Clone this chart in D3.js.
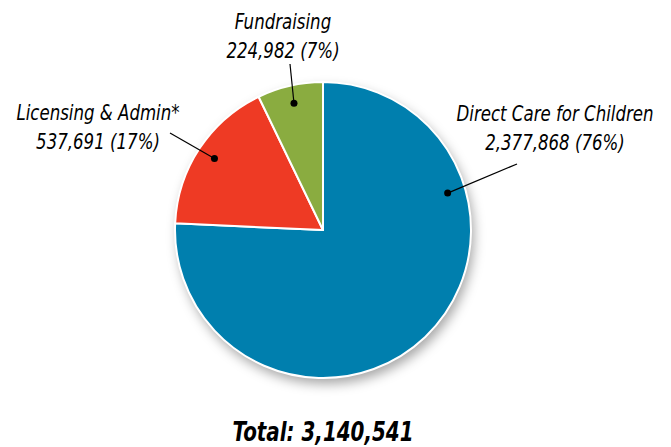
<!DOCTYPE html>
<html>
<head>
<meta charset="utf-8">
<script src="https://cdn.jsdelivr.net/npm/d3@7"></script>
<style>
  body { margin: 0; background: #fff; }
  text { font-family: "DejaVu Sans Condensed", "DejaVu Sans", sans-serif; }
</style>
</head>
<body>
<div id="container"></div>
<script>
// 数据
const categories = ["Direct Care for Children", "Licensing & Admin*", "Fundraising"];
const amounts = [2377868, 537691, 224982];
const colors = ["#007fae", "#ee3a24", "#8aac40"];

const width = 671,
  height = 447;
const cx = 323,
  cy = 230,
  radius = 148;

const total = d3.sum(amounts);
const fmt = d3.format(",");

const svg = d3
  .select("#container")
  .append("svg")
  .attr("width", width)
  .attr("height", height)
  .attr("viewBox", [0, 0, width, height]);

// 阴影
const filter = svg
  .append("defs")
  .append("filter")
  .attr("id", "shadow")
  .attr("x", "-20%")
  .attr("y", "-20%")
  .attr("width", "150%")
  .attr("height", "150%");
filter
  .append("feDropShadow")
  .attr("dx", 3)
  .attr("dy", 6)
  .attr("stdDeviation", 6)
  .attr("flood-color", "#000")
  .attr("flood-opacity", 0.35);

const pie = d3.pie().sort(null).value((d) => d);
const arcs = pie(amounts);
const arc = d3.arc().innerRadius(0).outerRadius(radius);

const g = svg.append("g").attr("transform", `translate(${cx},${cy})`);

g.append("circle").attr("r", radius).attr("fill", "#fff").attr("filter", "url(#shadow)");

g.selectAll("path")
  .data(arcs)
  .join("path")
  .attr("d", arc)
  .attr("fill", (d, i) => colors[i])
  .attr("stroke", "#fff")
  .attr("stroke-width", 2)
  .attr("stroke-linejoin", "round");

// 标注：点的角度（度，顺时针自正上方）、文字位置、引线起点
const dotRadius = 130;
const labelLayout = [
  { angle: 73.5, x: 555, y: 121, lx: 517, ly: 164 },
  { angle: null, x: 98, y: 120, lx: 170, ly: 133 },
  { angle: null, x: 283, y: 29, lx: 290, ly: 64 }
];

arcs.forEach((d, i) => {
  const L = labelLayout[i];
  const a = L.angle === null ? (d.startAngle + d.endAngle) / 2 : (L.angle * Math.PI) / 180;
  const px = cx + dotRadius * Math.sin(a);
  const py = cy - dotRadius * Math.cos(a);

  svg
    .append("line")
    .attr("x1", L.lx)
    .attr("y1", L.ly)
    .attr("x2", px)
    .attr("y2", py)
    .attr("stroke", "#000")
    .attr("stroke-width", 1.2);
  svg.append("circle").attr("cx", px).attr("cy", py).attr("r", 3.5).attr("fill", "#000");

  // 文字水平压缩，模拟窄体字
  const t = svg
    .append("g")
    .attr("transform", `translate(${L.x},${L.y}) scale(0.84,1)`)
    .append("text")
    .attr("text-anchor", "middle")
    .attr("font-style", "italic")
    .attr("font-size", 22)
    .attr("fill", "#000");
  t.append("tspan").attr("x", 0).text(categories[i]);
  t.append("tspan")
    .attr("x", 0)
    .attr("dy", 29.5)
    .text(`${fmt(amounts[i])} (${Math.round((amounts[i] / total) * 100)}%)`);
});

svg
  .append("g")
  .attr("transform", `translate(323,441) scale(0.82,1)`)
  .append("text")
  .attr("text-anchor", "middle")
  .attr("font-style", "italic")
  .attr("font-weight", "bold")
  .attr("font-size", 27)
  .attr("fill", "#000")
  .text(`Total: ${fmt(total)}`);
</script>
</body>
</html>
